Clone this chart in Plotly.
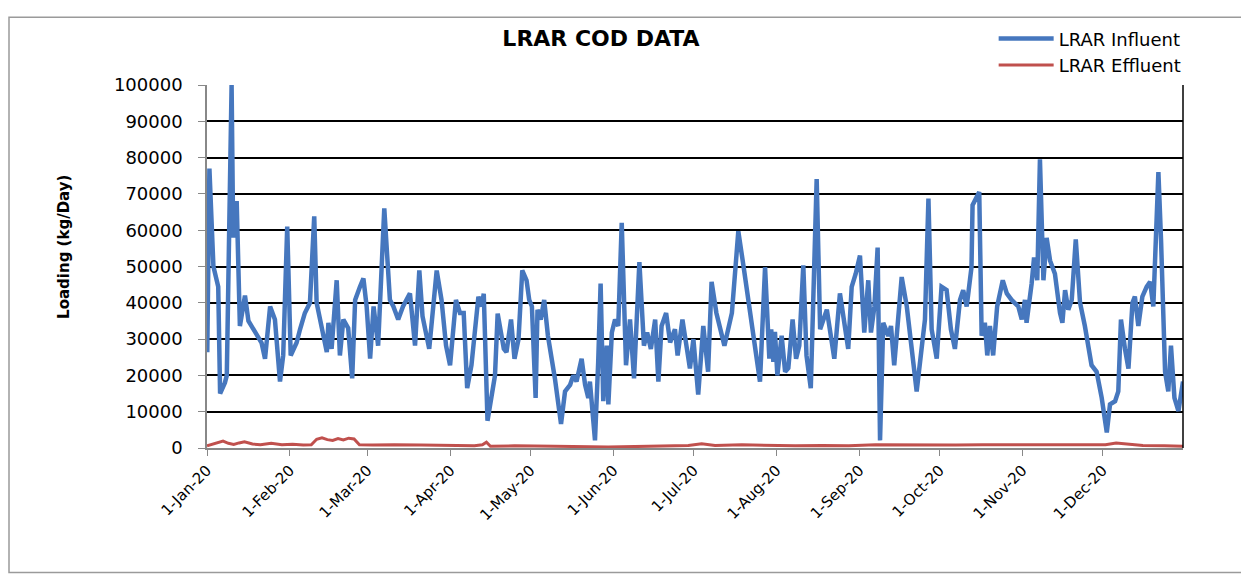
import pandas as pd
import plotly.graph_objects as go

# ---- data (day offset from 1-Jan-2020, kg/day) ----
influent_day = [0.1, 0.9, 2.4, 4.2, 4.9, 6.7, 7.4, 9.2, 9.8, 11.1, 12.3, 14.2, 15.5, 17.3, 19.2, 20.4, 21.7, 23.6,
                25.4, 27.3, 28.5, 30.0, 31.3, 33.5, 34.8, 36.6, 38.5, 40.1, 41.0, 42.9, 44.8, 45.4, 46.6, 48.5,
                49.7, 51.0, 52.8, 54.3, 55.4, 57.2, 58.5, 59.7, 61.0, 62.3, 64.0, 66.3, 68.4, 69.7, 71.5, 73.3,
                75.9, 77.8, 79.4, 80.6, 83.1, 85.9, 87.7, 89.4, 90.9, 93.1, 94.6, 96.0, 97.3, 98.9, 101.5, 102.7,
                103.5, 104.9, 107.7, 108.7, 111.0, 112.0, 113.7, 115.0, 116.5, 117.9, 119.5, 120.5, 121.5, 122.9,
                123.6, 124.8, 126.1, 127.5, 130.1, 132.4, 133.9, 135.8, 137.0, 138.2, 140.1, 141.4, 142.6, 143.2,
                145.1, 146.3, 147.2, 148.2, 149.5, 150.1, 151.4, 152.6, 153.8, 155.1, 156.7, 158.2, 159.7, 161.7,
                163.4, 164.6, 166.0, 167.6, 168.8, 170.0, 171.7, 173.2, 175.0, 176.0, 177.8, 180.6, 181.9, 183.7,
                185.6, 187.4, 188.7, 190.5, 193.5, 196.3, 198.7, 200.6, 203.0, 204.9, 206.8, 208.7, 210.3, 211.0,
                211.8, 212.4, 213.3, 214.9, 216.2, 217.4, 219.0, 220.3, 221.5, 223.0, 224.2, 225.8, 228.0, 229.3,
                231.8, 234.6, 236.7, 239.8, 241.1, 242.6, 244.2, 245.8, 247.3, 248.3, 249.6, 250.8, 251.7, 252.9,
                254.8, 255.8, 257.0, 259.8, 261.7, 265.4, 267.3, 268.5, 269.8, 271.0, 272.9, 274.7, 276.6, 278.2,
                279.7, 281.6, 282.8, 284.1, 285.9, 286.3, 288.8, 289.7, 290.9, 291.8, 292.8, 294.0, 295.5, 297.6,
                299.1, 300.9, 303.4, 304.7, 305.9, 306.5, 308.4, 309.3, 310.5, 311.5, 312.8, 314.0, 315.3, 317.1,
                319.0, 319.9, 320.9, 322.1, 323.4, 324.9, 326.5, 328.3, 330.8, 332.7, 334.6, 336.5, 337.7, 339.6,
                340.8, 341.8, 343.3, 344.6, 346.1, 347.0, 348.3, 349.8, 351.4, 352.7, 353.9, 355.8, 356.8, 358.3,
                359.5, 360.5, 361.8, 363.3, 365.0]
influent_kg = [26400, 77000, 50000, 44400, 15000, 18000, 20000, 100000, 58000, 68000, 33600, 42000, 35000, 32700,
               30000, 29000, 24600, 39000, 35400, 18300, 25500, 61000, 25500, 29000, 32700, 37200, 40000, 63800,
               40000, 33600, 26400, 34500, 27300, 46200, 25500, 35400, 33000, 19200, 40800, 44400, 46700, 39000,
               24600, 39000, 28200, 66000, 40800, 39000, 35400, 39000, 42600, 28200, 48900, 36300, 27300, 48900,
               40800, 28200, 22800, 40800, 37200, 37200, 16500, 22800, 41700, 39000, 42500, 7500, 20000, 37000,
               27300, 26400, 35400, 24600, 30000, 48900, 46200, 40800, 39000, 13800, 38100, 35400, 40800, 30900,
               19200, 6600, 15600, 17400, 20000, 18300, 24600, 17400, 13800, 18300, 2100, 23700, 45300, 12900,
               28200, 12000, 31800, 35400, 33600, 62000, 22800, 35400, 19200, 51200, 28200, 31800, 27300, 35400,
               18300, 33600, 37200, 29100, 32700, 25500, 35400, 21900, 30000, 14700, 33600, 21000, 45800, 37200,
               28200, 37200, 59700, 50300, 37200, 27300, 18300, 49800, 24600, 32700, 23700, 32000, 20000, 30900,
               21000, 22000, 35400, 24600, 28200, 50300, 25500, 16500, 74100, 32700, 38100, 24600, 42600, 27300,
               44400, 48000, 53000, 31800, 46200, 31800, 39000, 55200, 2100, 34500, 30900, 33600, 22800, 47100,
               39000, 15600, 27300, 35400, 68700, 32700, 24600, 44400, 43500, 32700, 27300, 40800, 43500, 39000,
               49800, 66900, 70500, 30900, 34500, 25500, 33600, 25500, 39000, 46200, 42600, 40800, 39000, 35400,
               40800, 34500, 45300, 52500, 46200, 79500, 46200, 57900, 51600, 48000, 37200, 34500, 43500, 38100,
               40800, 57500, 40000, 33600, 22800, 21000, 13800, 4300, 12000, 12900, 15600, 35400, 27300, 21900,
               40000, 41700, 33600, 41700, 44400, 45800, 39000, 76000, 57000, 21000, 15600, 28200, 13800, 10200,
               18300]

effluent_day = [0, 2, 4, 6, 8, 10, 12, 14, 17, 20, 24, 28, 32, 36, 39, 41, 43, 45, 47, 49, 51, 53, 55, 57, 62,
                70, 80, 90, 100, 103, 104.5, 106, 115, 130, 140, 150, 160, 170, 180, 185, 190, 200, 210, 220,
                230, 240, 250, 260, 270, 280, 290, 300, 310, 320, 330, 336, 340, 344, 350, 358, 365]
effluent_kg = [600, 1000, 1500, 1900, 1300, 1000, 1400, 1700, 1100, 900, 1300, 900, 1000, 800, 900, 2400, 2800,
               2300, 2100, 2600, 2200, 2700, 2500, 900, 800, 900, 800, 700, 600, 900, 1600, 500, 600, 500, 300,
               250, 400, 600, 700, 1200, 700, 900, 700, 600, 700, 600, 900, 800, 700, 800, 900, 900, 800, 900,
               700, 900, 1400, 1200, 700, 600, 500]

series_names = ["LRAR Influent", "LRAR Effluent"]
chart_title = "LRAR COD DATA"
y_title = "Loading (kg/Day)"
y_ticks = [0, 10000, 20000, 30000, 40000, 50000, 60000, 70000, 80000, 90000, 100000]

base = pd.Timestamp("2020-01-01")
def to_dates(days):
    return [base + pd.to_timedelta(d, unit="D") for d in days]

fig = go.Figure()
fig.add_trace(go.Scatter(x=to_dates(influent_day), y=influent_kg, mode="lines", name=series_names[0],
                         line=dict(color="#4677BE", width=4.5)))
fig.add_trace(go.Scatter(x=to_dates(effluent_day), y=effluent_kg, mode="lines", name=series_names[1],
                         line=dict(color="#C0504D", width=3)))

# page has an 8px body margin: figure is 1241x569, placed at (8, 8)
W, H, OFF = 1241, 569, 8
fnt = "DejaVu Sans"
fig.update_layout(
    width=W, height=H,
    margin=dict(l=207 - OFF, r=W - (1183 - OFF), t=78 - OFF, b=H - (448 - OFF)),
    paper_bgcolor="white", plot_bgcolor="white",
    font=dict(family=fnt, color="black"),
    title=dict(text=chart_title, x=(601 - OFF) / W, xanchor="center", y=1 - (38 - OFF) / H, yanchor="middle",
               font=dict(family=fnt, size=22, weight="bold", color="black")),
    legend=dict(x=0.806, y=1.178, xanchor="left", yanchor="top", font=dict(family=fnt, size=18, color="black"),
                bgcolor="rgba(0,0,0,0)", itemwidth=55, tracegroupgap=0),
    showlegend=True,
)
fig.update_xaxes(
    type="date", range=["2020-01-01", "2020-12-31"],
    tick0="2020-01-01", dtick="M1", tickformat="%-d-%b-%y", tickangle=-45,
    tickfont=dict(family=fnt, size=15, color="black"),
    showgrid=False, showline=True, linecolor="#888888", linewidth=1.5,
    ticks="outside", ticklen=6, tickcolor="#888888", zeroline=False,
)
fig.update_yaxes(
    range=[0, 100000], tickvals=y_ticks, tickformat="d",
    tickfont=dict(family=fnt, size=18, color="black"),
    showgrid=True, gridcolor="black", gridwidth=1.5,
    showline=True, linecolor="#888888", linewidth=1.5,
    ticks="outside", ticklen=7, tickcolor="#888888", zeroline=False,
    ticklabelstandoff=12,
)
# y-axis title as annotation
fig.add_annotation(text=y_title, xref="paper", yref="paper", x=(64 - 207) / 976, y=(448 - 243) / 370,
                   xanchor="center", yanchor="middle", textangle=-90, showarrow=False,
                   font=dict(family=fnt, size=15, weight="bold", color="black"))
# right border of plot area
fig.add_shape(type="line", xref="paper", yref="paper", x0=1, x1=1, y0=0, y1=1,
              line=dict(color="black", width=1.5))
# outer chart frame
fig.add_shape(type="rect", xref="paper", yref="paper",
              x0=(9 - 207) / 976, x1=(1244 - 207) / 976, y0=(448 - 575) / 370, y1=(448 - 9) / 370,
              line=dict(color="#9a9a9a", width=1.5), layer="below")

fig.write_html("out.html")
